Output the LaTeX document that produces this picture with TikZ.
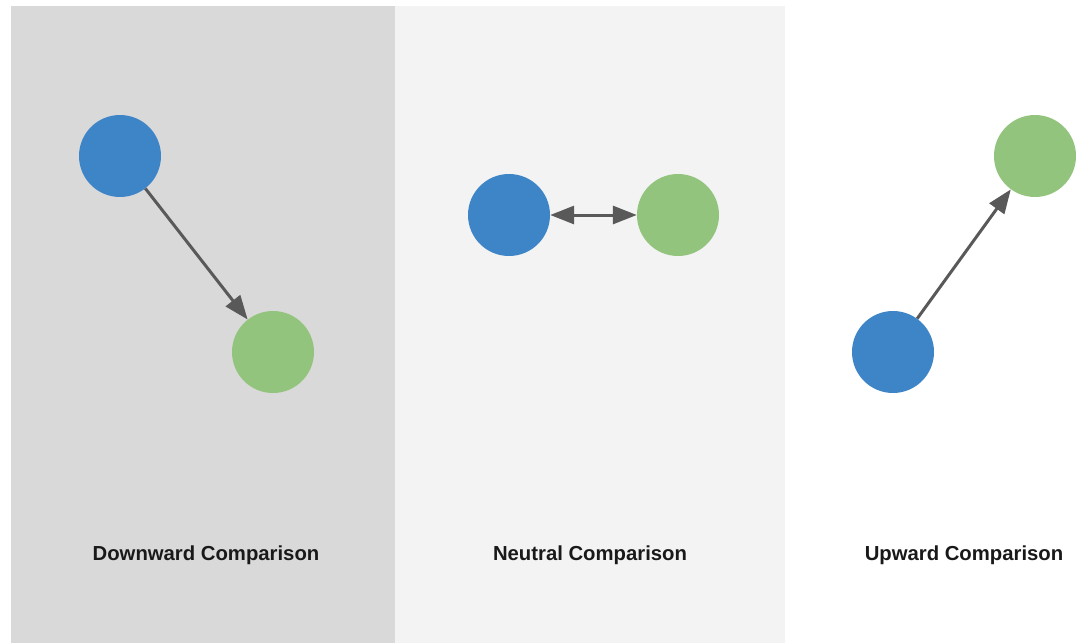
\documentclass[tikz,border=0pt]{standalone}
\usepackage{fontspec}
\setmainfont{Liberation Sans}
\usepackage{xcolor}
\usetikzlibrary{arrows.meta,positioning}
\definecolor{panelgray}{HTML}{D9D9D9}
\definecolor{panellight}{HTML}{F3F3F3}
\definecolor{selfblue}{HTML}{3D85C6}
\definecolor{othergreen}{HTML}{93C47D}
\definecolor{arrowgray}{HTML}{595959}

\begin{document}
\begin{tikzpicture}[x=1pt,y=-1pt,>={Triangle[length=24pt,width=18pt]},
  person/.style={circle,minimum size=82pt,inner sep=0pt},
  self/.style={person,fill=selfblue},
  other/.style={person,fill=othergreen},
  link/.style={draw=arrowgray,line width=3pt},
  caption/.style={font=\bfseries\fontsize{20.3}{24}\selectfont,text=black!90}]
\useasboundingbox (0,0) rectangle (1079,643);
% three panels
\fill[panelgray] (11,6) rectangle (395,643);
\fill[panellight] (395,6) rectangle (785,643);

% downward
\node[self] (dself) at (120,156) {};
\node[other] (dother) at (273,352) {};
\draw[link,->] (dself) -- (dother);
\node[caption] (dcap) at (206,555) {Downward Comparison};

% neutral
\node[self] (nself) at (509,215) {};
\node[other] (nother) at (678,215) {};
\draw[link,<->] (nself) -- (nother);
\node[caption] (ncap) at (590,555) {Neutral Comparison};

% upward
\node[self] (uself) at (893,352) {};
\node[other] (uother) at (1035,156) {};
\draw[link,->] (uself) -- (uother);
\node[caption] (ucap) at (964,555) {Upward Comparison};
\end{tikzpicture}
\end{document}
